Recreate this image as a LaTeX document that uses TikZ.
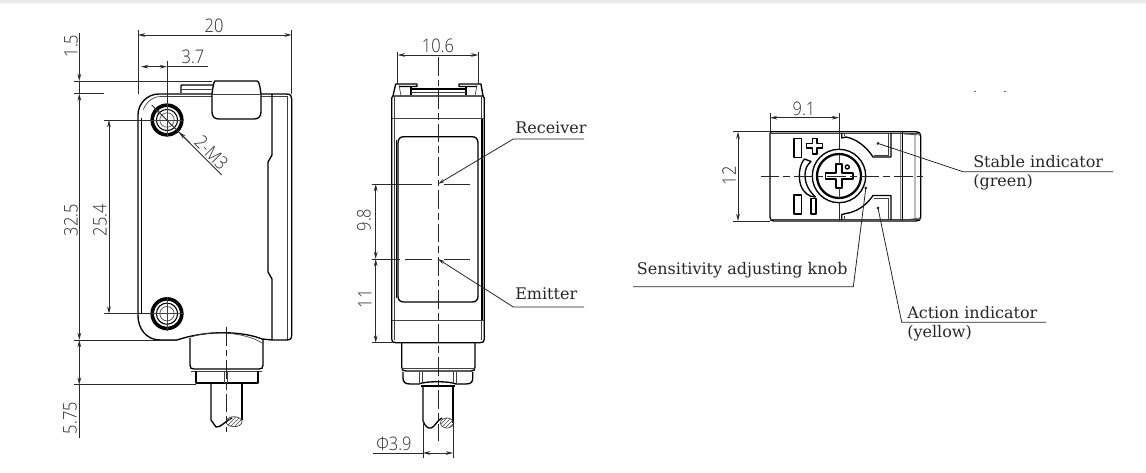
\documentclass[tikz,border=0pt]{standalone}
\usepackage{fontspec}
\setmainfont{DejaVu Serif}
\newfontfamily\dimfont[FakeStretch=0.88]{Open Sans Light}
\usetikzlibrary{arrows.meta,patterns}
\definecolor{dimc}{HTML}{2a2a2a}
\tikzset{
 outl/.style={line width=1pt,black,line join=round},
 lite/.style={line width=0.5pt,black!75},
 dimline/.style={line width=0.6pt,dimc},
 dimarrow/.style={dimline,{Stealth[length=5.5pt,width=2.8pt]}-{Stealth[length=5.5pt,width=2.8pt]}},
 endarrow/.style={dimline,-{Stealth[length=5.5pt,width=2.8pt]}},
 centerl/.style={line width=0.6pt,black!85,dash pattern=on 14pt off 3pt on 5pt off 3pt},
 dimtxt/.style={font=\dimfont\fontsize{14}{15}\selectfont,text=dimc,inner sep=0pt},
 lbl/.style={font=\fontsize{12}{13}\selectfont,text=black!85,inner sep=0pt,anchor=west},
 leader/.style={line width=0.6pt,black!85},
}
\begin{document}
\begin{tikzpicture}[x=0.75pt,y=-0.75pt]
\useasboundingbox (0,0) rectangle (1146,473);
\fill[black!8] (0,0) rectangle (1146,3.5);
%% ---- LEFT VIEW ----
\draw[outl] (138,115) arc[start angle=180,end angle=90,x radius=21,y radius=-21] -- (286,94) .. controls (291,94) and (291.7,96) .. (291.7,99) -- (291.7,335) .. controls (291.7,339) and (290,340) .. (286,340) -- (272,340) -- (262,339) .. controls (245,332) and (210,329) .. (177,340) -- (160,340) .. controls (146,340) and (138,328) .. (138,316) -- cycle;
\draw[outl] (141.7,118) -- (141.7,314);
\draw[lite] (143,110) .. controls (147,101) and (153,96.5) .. (161,96.5) -- (212,96.5);
\draw[lite] (261,96.5) -- (287,96.5) (287,96) -- (287,339);
\draw[outl] (272,94) -- (272,155) -- (268,162) -- (268,272) -- (272,279) -- (272,340);
% tab
\draw[outl,fill=white] (215,81) -- (257,81) .. controls (259,81) and (260,86) .. (261,94) -- (261,112) .. controls (261,117) and (258,119) .. (254,119) -- (219,119) .. controls (215,119) and (212,117) .. (212,112) -- (212,94) .. controls (213,86) and (214,81) .. (215,81) -- cycle;
\draw[lite] (212,94) -- (261,94);
\draw[outl] (181,93) -- (181,86) .. controls (181,85) and (182,85) .. (183,85) -- (213,85);
\draw[lite] (181,89) -- (212,89);
% holes
\foreach \cy/\nm in {120/a,313.7/b}{
 \draw[line width=2.7pt,black] (167,\cy) circle[radius=14.8];
 \draw[line width=.8pt] (167,\cy) circle[radius=10.6];
 \draw[lite] (167,\cy) circle[radius=7.2];
 \draw[lite] (150,\cy) -- (184,\cy) (167,\cy-17) -- (167,\cy+17);
}
% bottom
\draw[outl] (190,338) -- (190,365) .. controls (190,368) and (191,369) .. (194,369) -- (259,369) .. controls (262,369) and (263,368) .. (263,365) -- (263,339);
\draw[lite] (191,337) .. controls (210,330) and (245,332) .. (262,343);
\draw[lite] (191,371.5) -- (262,371.5);
\draw[outl] (196,371) -- (196,383) -- (258,383) -- (258,371);
\draw[lite] (224.5,371) -- (224.5,383) (227,371) -- (227,383);
\draw[outl] (211,383) -- (211,420) -- (216,427) .. controls (221,428) and (226,420) .. (232,418);
\draw[outl] (242,383) -- (242,420);
\draw[lite,pattern=north east lines,pattern color=black!70] (234,421.7) ellipse[x radius=8,y radius=5];
\draw[centerl] (226,327) -- (226,432);
% dims
\draw[dimarrow] (138,35) -- (291.7,35);
\draw[dimline] (138,30) -- (138,94) (291.7,30) -- (291.7,94);
\node[dimtxt] (d20) at (214,25.5) {20};
\draw[dimarrow] (141,66.7) -- (167,66.7);
\draw[dimline] (167,66.7) -- (208,66.7) (167,61) -- (167,103);
\node[dimtxt] (d37) at (193,57) {3.7};
\draw[endarrow] (79.3,33) -- (79.3,81);
\draw[dimline] (74,81) -- (212,81) (74,93.5) -- (104,93.5);
\draw[dimline] (79.3,81) -- (79.3,93.5);
\draw[dimarrow] (79.3,93.5) -- (79.3,340);
\draw[dimarrow] (79.3,340) -- (79.3,384.7);
\draw[dimline] (79.3,384.7) -- (79.3,438);
\draw[dimline] (74,340) -- (177,340) (74,384.7) -- (196,384.7);
\node[dimtxt,rotate=90] (d15) at (71,46) {1.5};
\node[dimtxt,rotate=90] (d325) at (71,220) {32.5};
\node[dimtxt,rotate=90] (d254) at (100,220) {25.4};
\node[dimtxt,rotate=90] (d575) at (70,418) {5.75};
\draw[dimarrow] (109,120) -- (109,313.7);
\draw[dimline] (104,120) -- (150,120) (104,313.7) -- (150,313.7);
\coordinate (mh) at (151.7,105);
\coordinate (me) at (221.7,175);
\draw[dimline] (mh) -- (me);
\draw[endarrow] (190,143) -- (179,132);
\draw[endarrow] (156,109.5) -- (154,107.3);
\node[dimtxt,rotate=-45] (m3) at (211.5,152.5) {2-M3};
%% ---- MIDDLE VIEW ----
\draw[outl] (391.7,98) -- (391.7,339) .. controls (391.7,342) and (393,342.7) .. (396,342.7) -- (480,342.7) .. controls (483,342.7) and (484.3,342) .. (484.3,339) -- (484.3,98);
\draw[outl] (391.7,98) -- (393,96) -- (483,96) -- (484.3,98);
\draw[lite] (394,96) -- (394,340) (481.7,96) -- (481.7,340);
\draw[line width=1.2pt,black] (482,118) -- (482,320);
\draw[lite] (391.7,118) -- (484.3,118) (391.7,320) -- (484.3,320);
\draw[outl] (398,143) .. controls (398,139) and (400,136.7) .. (404,136.7) -- (472,136.7) .. controls (476,136.7) and (478,139) .. (478,143) -- (478,296) .. controls (478,300) and (476,302) .. (472,302) -- (404,302) .. controls (400,302) and (398,300) .. (398,296) -- cycle;
\draw[outl] (396.8,140) -- (396.8,298);
% top tabs
\draw[outl] (393,96) -- (395.7,84) -- (417,84) -- (417,86.5) -- (399,86.5);
\draw[outl] (483,96) -- (481,84) -- (459,84) -- (459,86.5) -- (477,86.5);
\draw[lite] (399,85) -- (401,96) (477,85) -- (475,96);
\draw[outl] (411,87) -- (411,95.5) (466,87) -- (466,95.5);
\draw[outl] (411.7,89) -- (466,89);
\draw[lite] (411,92.5) -- (466,92.5);
\draw[centerl] (438,57) -- (438,441);
\draw[dimarrow] (397.7,55) -- (478.3,55);
\draw[dimline] (397.7,52) -- (397.7,84) (478.3,52) -- (478.3,84);
\node[dimtxt] (d106) at (438,46) {10.6};
\draw[dimarrow] (375.7,184) -- (375.7,259);
\draw[dimarrow] (375.7,259) -- (375.7,342.7);
\draw[dimline] (371.7,342.7) -- (392,342.7);
\coordinate (rc) at (438,184);
\coordinate (em) at (438,259);
\draw[dimline] (371.7,184) -- (432,184) (444,184) -- (470,184) (371.7,259) -- (400,259) (405,259) -- (432,259) (444,259) -- (470,259);
\node[dimtxt,rotate=90] (d98) at (364,220) {9.8};
\node[dimtxt,rotate=90] (d11) at (365,299) {11};
\node[lbl] (trc) at (515,127.5) {Receiver};
\node[lbl] (tem) at (515,294) {Emitter};
\coordinate (rk) at (513.3,139);
\coordinate (ek) at (513.3,307);
\coordinate (re) at (584,139);
\coordinate (ee) at (584,307);
\draw[leader,{Stealth[length=5pt,width=2.5pt]}-] (rc) -- (rk) -- (re);
\draw[leader,{Stealth[length=5pt,width=2.5pt]}-] (em) -- (ek) -- (ee);
% bottom
\draw[outl] (401.7,343) -- (401.7,367) .. controls (401.7,370) and (403,371) .. (406,371) -- (471,371) .. controls (474,371) and (475,370) .. (475,367) -- (475,343);
\draw[lite] (402,368) -- (475,368);
\draw[outl] (403,372) -- (403,378) .. controls (403,382) and (405,384) .. (410,384) -- (419,384) .. controls (425,381) and (450,381) .. (456,384) -- (466,384) .. controls (471,384) and (472.7,382) .. (472.7,378) -- (472.7,372);
\draw[lite] (419,372) -- (419,384) (422,372) -- (422,382) (456.7,372) -- (456.7,384) (453.7,372) -- (453.7,382);
\draw[outl] (421,386) -- (455,386);
\draw[outl] (423,386) -- (423,421) .. controls (425,426) and (428,429) .. (431,428) .. controls (435,427) and (437,420) .. (442,418);
\draw[outl] (453,386) -- (453,423);
\draw[lite,pattern=north east lines,pattern color=black!70] (447,423) ellipse[x radius=6.5,y radius=5];
\draw[dimline] (423,421) -- (423,458) (453,423) -- (453,458);
\draw[dimline] (373,453) -- (423,453);
\draw[dimarrow] (423,453) -- (453,453);
\node[dimtxt] (d39) at (394,443.5) {Φ3.9};
%% ---- RIGHT VIEW ----
\draw[outl] (772,131.7) -- (916,131.7) .. controls (919,131.7) and (920.7,133) .. (920.7,136) -- (920.7,217) .. controls (920.7,220) and (919,221) .. (916,221) -- (774,221) .. controls (771,221) and (770,220) .. (770,217) -- (770,134) .. controls (770,132) and (771,131.7) .. (772,131.7) -- cycle;
\draw[lite] (770,133.5) -- (920,133.5) (770,219.5) -- (920,219.5);
\draw[outl] (902.7,132) -- (902.7,221);
\draw[lite] (900.7,132) -- (900.7,221) (915,134) -- (915,218) (904,134) -- (920,135) (904,220) -- (920,218);
% windows
\draw[outl] (841.7,133) -- (841.7,138) -- (846,137) .. controls (856,139) and (866,146) .. (873,157) -- (891,157) -- (891,133);
\draw[lite] (844.5,133.5) -- (844.5,136) (888.5,133.5) -- (888.5,155) (873.5,155) -- (888.5,155);
\draw[outl] (841.7,220) -- (841.7,214.5) -- (846,213.5) .. controls (856,212) and (866,206) .. (873,195.5) -- (891,195.5) -- (891,220);
\draw[lite] (844.5,219) -- (844.5,216) (888.5,219) -- (888.5,198) (873.5,198) -- (888.5,198);
% marks
\draw[outl] (794,138.5) rectangle (801.7,157.5);
\draw[outl] (794,195) rectangle (801.7,214);
\draw[outl] (811,198.5) rectangle (816,214);
\draw[outl] (806.5,143.5) -- (812.5,143.5) -- (812.5,138.5) -- (817,138.5) -- (817,143.5) -- (822.5,143.5) -- (822.5,148) -- (817,148) -- (817,154) -- (812.5,154) -- (812.5,148) -- (806.5,148) -- cycle;
\draw[outl] (804.5,159) .. controls (799,165) and (798,178) .. (801,186) .. controls (804,193) and (809,197) .. (815.5,197) .. controls (809,191) and (805,184) .. (805,175) .. controls (805,169) and (807,165) .. (811,161.5) -- cycle;
% knob
\draw[outl] (839,176) circle[radius=26.7];
\draw[line width=1.7pt] (839,176) circle[radius=22];
\draw[outl] (836,164) -- (842,164) -- (842,173) -- (853,173) -- (853,179) -- (842,179) -- (842,188) -- (836,188) -- (836,179) -- (825.5,179) -- (825.5,173) -- (836,173) -- cycle;
\draw[outl] (847.3,167) circle[radius=2];
\draw[lite] (839,155) -- (839,164) (839,188) -- (839,198);
\draw[dimline] (839,113) -- (839,150) (839,202) -- (839,221);
\draw[centerl] (760.7,176) -- (926.7,176);
% dims
\draw[dimarrow] (770,117.7) -- (839,117.7);
\draw[dimline] (770,113) -- (770,132);
\node[dimtxt] (d91) at (804,109) {9.1};
\draw[dimarrow] (738,131.7) -- (738,221);
\draw[dimline] (733,131.7) -- (770,131.7) (733,221) -- (770,221);
\node[dimtxt,rotate=90] (d12) at (729,176) {12};
% leaders
\coordinate (s0) at (876.7,143);
\coordinate (s1) at (963,171.7);
\coordinate (s2) at (1113,171.7);
\coordinate (k0) at (866,186.7);
\coordinate (k1) at (853.3,286.7);
\coordinate (k2) at (633,286.7);
\coordinate (a0) at (877.7,206.7);
\coordinate (a1) at (901.7,322.3);
\coordinate (a2) at (1046,322.3);
\draw[leader,{Circle[length=2pt]}-] (s0) -- (s1) -- (s2);
\draw[leader,{Circle[length=2pt]}-] (k0) -- (k1) -- (k2);
\draw[leader,{Circle[length=2pt]}-] (a0) -- (a1) -- (a2);
\node[lbl] (t1) at (973,161.7) {Stable indicator};
\node[lbl] (t2) at (973,182.7) {(green)};
\node[lbl] (t3) at (636.7,270) {Sensitivity adjusting knob};
\node[lbl] (t4) at (907,312.7) {Action indicator};
\node[lbl] (t5) at (907,333) {(yellow)};
\draw[line width=.6pt,black!60] (974,91) -- (976,91) (1004,91) -- (1006,91);
\end{tikzpicture}
\end{document}
